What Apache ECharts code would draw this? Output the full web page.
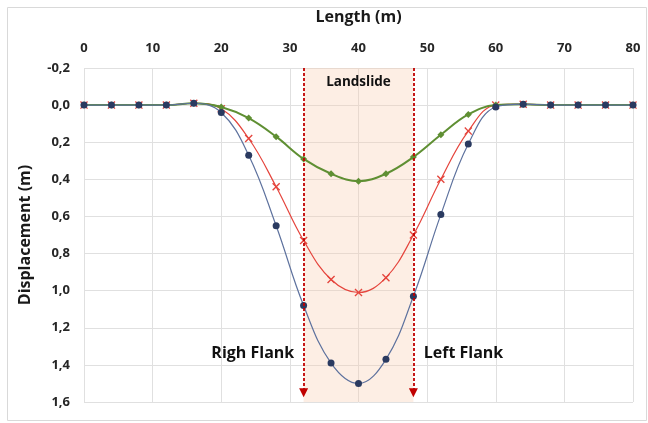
<!DOCTYPE html>
<html>
<head>
<meta charset="utf-8">
<script src="https://cdn.jsdelivr.net/npm/echarts@6/dist/echarts.min.js"></script>
<style>
  html, body { margin: 0; padding: 0; background: #fff; }
  #chart { width: 648px; height: 423px; }
</style>
</head>
<body>
<div id="chart"></div>
<script>
// distance along the profile (m)
const lengths = [0, 4, 8, 12, 16, 20, 24, 28, 32, 36, 40, 44, 48, 52, 56, 60, 64, 68, 72, 76, 80]
// displacement (m)
const blueDisp  = [0, 0, 0, 0, -0.01, 0.04, 0.27, 0.65, 1.08, 1.39, 1.50, 1.37, 1.03, 0.59, 0.21, 0.01, -0.005, 0, 0, 0, 0]
const redDisp   = [0, 0, 0, 0, -0.01, 0.02, 0.18, 0.44, 0.73, 0.94, 1.01, 0.93, 0.70, 0.40, 0.14, 0.00, -0.005, 0, 0, 0, 0]
const greenDisp = [0, 0, 0, 0, -0.01, 0.01, 0.07, 0.17, 0.29, 0.37, 0.41, 0.37, 0.28, 0.16, 0.05, 0.00, -0.005, 0, 0, 0, 0]

// landslide zone and flank annotations
const zoneFrom = 32
const zoneTo = 48
const arrowEnd = 1.55
const notes = [
  { name: 'Landslide', coord: [40, -0.125], size: 13.5 },
  { name: 'Righ Flank', coord: [24.6, 1.34], size: 16 },
  { name: 'Left Flank', coord: [55.3, 1.34], size: 16 },
]

const FONT = '"Open Sans", "Noto Sans", sans-serif'
const pairs = ys => lengths.map((x, i) => [x, ys[i]])
const fmt = v => (Math.round(v * 10) / 10).toFixed(1).replace('.', ',')
const cross = 'path://M0,1.2L1.2,0L5,3.8L8.8,0L10,1.2L6.2,5L10,8.8L8.8,10L5,6.2L1.2,10L0,8.8L3.8,5Z'

const chart = echarts.init(document.getElementById('chart'))
chart.setOption({
  animation: false,
  textStyle: { fontFamily: FONT },
  graphic: [{
    type: 'rect', shape: { x: 7.5, y: 7.5, width: 639, height: 413 },
    style: { fill: 'none', stroke: '#d9d9d9', lineWidth: 1 }, silent: true,
  }],
  grid: { left: 84, right: 15, top: 68, bottom: 21 },
  xAxis: {
    type: 'value', position: 'top', min: 0, max: 80, interval: 10,
    name: 'Length (m)', nameLocation: 'middle', nameGap: 43,
    nameTextStyle: { fontFamily: FONT, fontSize: 16, fontWeight: 'bold', color: '#1a1a1a' },
    axisLine: { show: false }, axisTick: { show: false },
    axisLabel: { margin: 13, fontFamily: FONT, fontSize: 13, fontWeight: 'bold', color: '#262626' },
    splitLine: { lineStyle: { color: '#e0e0e0', width: 1 } },
  },
  yAxis: {
    type: 'value', inverse: true, min: -0.2, max: 1.6, interval: 0.2,
    name: 'Displacement (m)', nameLocation: 'middle', nameGap: 51,
    nameTextStyle: { fontFamily: FONT, fontSize: 16, fontWeight: 'bold', color: '#1a1a1a' },
    axisLine: { show: false }, axisTick: { show: false },
    axisLabel: { margin: 14, fontFamily: FONT, fontSize: 13, fontWeight: 'bold', color: '#262626', formatter: fmt },
    splitLine: { lineStyle: { color: '#e0e0e0', width: 1 } },
  },
  series: [
    {
      name: 'zone', type: 'line', data: [], silent: true,
      markArea: {
        silent: true,
        itemStyle: { color: 'rgba(248, 203, 173, 0.33)' },
        data: [[{ coord: [zoneFrom, -0.2] }, { coord: [zoneTo, 1.6] }]],
      },
      markPoint: {
        silent: true, symbol: 'circle', symbolSize: 0,
        data: notes.map(n => ({
          name: n.name, coord: n.coord,
          label: { show: true, formatter: n.name, fontFamily: FONT, fontSize: n.size, fontWeight: 'bold', color: '#111', position: 'inside' },
        })),
      },
    },
    {
      name: 'green', type: 'line', data: pairs(greenDisp), smooth: 0.4,
      symbol: 'diamond', symbolSize: 7,
      lineStyle: { color: '#5f8f33', width: 2 },
      itemStyle: { color: '#5f8f33' },
      z: 3,
    },
    {
      name: 'red', type: 'line', data: pairs(redDisp), smooth: 0.4,
      symbol: cross, symbolSize: 8,
      lineStyle: { color: '#e5453d', width: 1.2 },
      itemStyle: { color: '#e5453d' },
      z: 2,
    },
    {
      name: 'blue', type: 'line', data: pairs(blueDisp), smooth: 0.4,
      symbol: 'circle', symbolSize: 7,
      lineStyle: { color: '#5e729e', width: 1.2 },
      itemStyle: { color: '#2a3a60' },
      z: 4,
      markLine: {
        silent: true, symbol: ['none', 'triangle'], symbolSize: [9, 9],
        label: { show: false },
        lineStyle: { color: '#c00000', type: [3, 2], width: 1.8 },
        data: [zoneFrom, zoneTo].map(x => [{ coord: [x, -0.2] }, { coord: [x, arrowEnd] }]),
      },
    },
  ],
})
</script>
</body>
</html>
